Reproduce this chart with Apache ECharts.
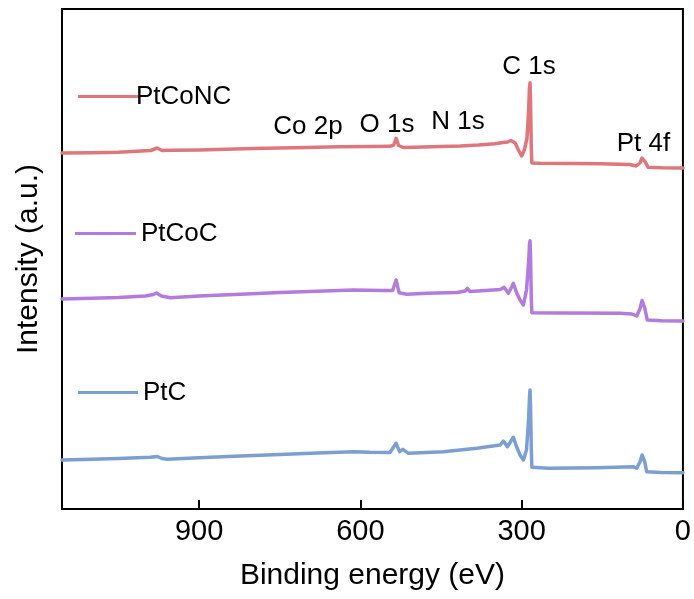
<!DOCTYPE html>
<html>
<head>
<meta charset="utf-8">
<script src="https://cdn.jsdelivr.net/npm/echarts@6/dist/echarts.min.js"></script>
<style>
  html, body { margin: 0; padding: 0; background: #fff; }
  #chart { width: 694px; height: 599px; }
</style>
</head>
<body>
<div id="chart"></div>
<script>
// ---- Data (binding energy in eV, intensity in a.u.) ----
const seriesNames = ['PtCoNC', 'PtCoC', 'PtC'];

const ptconcEnergy = [1155, 1100, 1050, 1008, 990, 978, 969, 950, 900, 850, 800, 750, 700, 640, 580, 545, 538, 533.5, 529, 520, 500, 450, 414, 380, 350, 335, 326, 320, 316.5, 312, 306, 300, 295, 290, 287, 285.5, 284.4, 283.5, 282, 281, 266, 200, 154, 98.5, 87, 80, 76, 73.8, 70, 65, 40, 0];
const ptconcIntensity = [357, 357.3, 357.7, 359, 359.5, 362, 359.5, 359.7, 360, 360.8, 361.5, 362, 362.5, 363.2, 363.5, 363.7, 365, 371.7, 364.5, 362.5, 362.7, 363.4, 364, 365, 366.3, 367.5, 368, 369.5, 370.7, 367, 360, 354, 360, 372, 400, 422, 427.3, 410, 360, 347, 346.7, 346.5, 346.3, 345.5, 344, 347, 352, 352.7, 348, 342.7, 342.2, 342];

const ptcocEnergy = [1155, 1100, 1050, 1000, 985, 979.5, 970, 953.5, 900, 823, 750, 680, 613, 560, 540, 533.5, 528, 514, 476, 420, 405, 401, 396, 353, 340, 332.7, 324.7, 318.5, 315.4, 310, 303, 296.8, 291, 287, 285.5, 284.4, 283.5, 282, 281, 228, 117, 95, 86, 80, 76, 73.8, 71, 66.4, 40, 0];
const ptcocIntensity = [211, 211.7, 212.5, 214, 215.5, 217, 214, 212.3, 214, 215.7, 217.5, 218.7, 220, 219.5, 219.5, 230, 217.3, 215.7, 216.7, 217.5, 219, 221.7, 218.5, 220, 220.5, 222.7, 216.7, 223, 226.7, 218, 210, 205, 220, 248, 265, 269.3, 255, 210, 197.3, 197, 196.7, 196, 194, 201, 209.5, 210.7, 202, 190, 189.2, 189];

const ptcEnergy = [1155, 1100, 1050, 990.7, 978, 969, 959.7, 900, 823, 750, 680, 613, 582, 545, 533.5, 527, 521, 510.6, 445.5, 383.5, 340, 334, 326.6, 315.4, 310, 303, 296.8, 291, 287, 285.5, 284.4, 283.5, 282, 281, 250, 160, 92, 86, 80, 76, 73.8, 71, 67.5, 40, 0];
const ptcIntensity = [50, 50.7, 51.5, 52.7, 53.5, 51.5, 50.7, 52.2, 54, 55.5, 57, 58.3, 57.7, 57.5, 66.7, 58.3, 60.7, 56.7, 58.3, 61.7, 65, 69, 63.3, 72.7, 64, 55, 50, 60, 92, 112, 120, 105, 60, 42.7, 41.7, 42.3, 43.3, 41.7, 48, 55, 56, 48, 38.3, 37.5, 37.3];

const xTickLabels = ['0', '300', '600', '900'];
const peakLabels = ['Co 2p', 'O 1s', 'N 1s', 'C 1s', 'Pt 4f'];

// ---- Build ----
const zip = (xs, ys) => xs.map((x, i) => [x, ys[i]]);
const colors = ['#df767b', '#b37bde', '#7c9fd3'];
const FONT = '"Liberation Sans", Arial, sans-serif';

const seriesData = [
  zip(ptconcEnergy, ptconcIntensity),
  zip(ptcocEnergy, ptcocIntensity),
  zip(ptcEnergy, ptcIntensity)
];

const legendPos = [
  { left: 78, top: 83.5, itemWidth: 62, pad: -9 },
  { left: 75, top: 220.5, itemWidth: 61, pad: 0 },
  { left: 78, top: 379.5, itemWidth: 60, pad: 0 }
];

const peakLabelPos = [
  [308, 126.5], [387, 124.7], [458, 122], [529, 67], [643.5, 144]
];

const chart = echarts.init(document.getElementById('chart'), null, { renderer: 'canvas' });

const option = {
  animation: false,
  backgroundColor: '#fff',
  textStyle: { fontFamily: FONT },
  grid: {
    left: 62, right: 11, top: 9, bottom: 90,
    show: true, borderColor: '#000', borderWidth: 2, backgroundColor: 'transparent'
  },
  legend: seriesNames.map((name, i) => ({
    data: [{ name: name, icon: 'rect' }],
    left: legendPos[i].left,
    top: legendPos[i].top,
    orient: 'horizontal',
    itemWidth: legendPos[i].itemWidth,
    itemHeight: 3,
    padding: 0,
    selectedMode: false,
    itemStyle: { color: colors[i], borderWidth: 0 },
    textStyle: {
      fontFamily: FONT, fontSize: 26, color: '#000',
      padding: [0, 0, 0, legendPos[i].pad]
    }
  })),
  xAxis: {
    type: 'value',
    inverse: true,
    min: 0,
    max: 1155,
    interval: 300,
    name: 'Binding energy (eV)',
    nameLocation: 'middle',
    nameGap: 52,
    nameTextStyle: { fontFamily: FONT, fontSize: 30, color: '#000' },
    axisLine: { show: true, lineStyle: { color: '#000', width: 2 } },
    axisTick: { show: true, inside: true, length: 9, lineStyle: { color: '#000', width: 2 } },
    axisLabel: {
      show: true, margin: 8, fontFamily: FONT, fontSize: 29, color: '#000',
      showMaxLabel: false,
      formatter: v => {
        const s = String(v);
        return xTickLabels.includes(s) ? s : '';
      }
    },
    splitLine: { show: false }
  },
  yAxis: {
    type: 'value',
    min: 1,
    max: 501,
    name: 'Intensity (a.u.)',
    nameLocation: 'middle',
    nameGap: 18,
    nameTextStyle: { fontFamily: FONT, fontSize: 30, color: '#000' },
    axisLine: { show: false },
    axisTick: { show: false },
    axisLabel: { show: false },
    splitLine: { show: false }
  },
  series: seriesNames.map((name, i) => ({
    name: name,
    type: 'line',
    data: seriesData[i],
    symbol: 'none',
    showSymbol: false,
    smooth: false,
    lineStyle: { color: colors[i], width: 3.5, join: 'round', cap: 'round' },
    itemStyle: { color: colors[i] },
    z: 3
  })),
  graphic: peakLabels.map((t, i) => ({
    type: 'text',
    x: peakLabelPos[i][0],
    y: peakLabelPos[i][1],
    z: 10,
    style: {
      text: t,
      fontFamily: FONT,
      fontSize: 26,
      fill: '#000',
      textAlign: 'center',
      textVerticalAlign: 'middle'
    }
  }))
};

chart.setOption(option);
</script>
</body>
</html>
